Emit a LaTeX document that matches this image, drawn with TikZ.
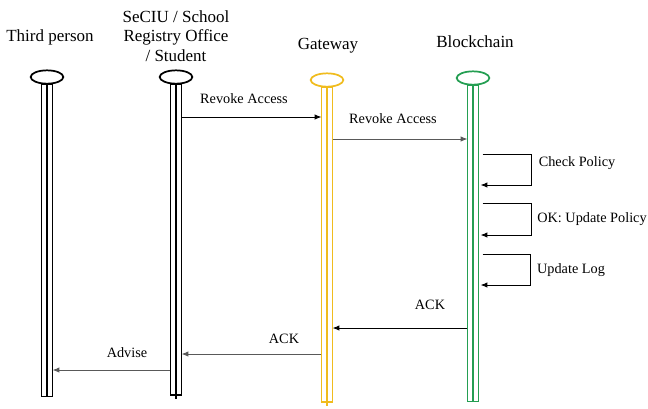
\documentclass[tikz,border=0pt]{standalone}
\usepackage{fontspec}
\setmainfont{Liberation Serif}
\definecolor{GateGold}{RGB}{240, 188, 30}
\definecolor{ChainGreen}{RGB}{36, 158, 82}
\usetikzlibrary{arrows.meta, positioning, shapes.geometric, calc}

\begin{document}
\begin{tikzpicture}[x=0.75pt, y=-0.75pt,
    head/.style={draw, ellipse, line width=1.3pt, minimum width=24.5pt, minimum height=10pt, inner sep=0pt},
    lifebar/.style={draw, rectangle, line width=1.1pt, minimum width=8.5pt, inner sep=0pt, outer sep=0pt},
    title/.style={font=\fontsize{12.75}{14.6}\selectfont, align=center},
    lbl/.style={font=\fontsize{10.7}{12}\selectfont},
    msg/.style={-{Latex[length=5pt, width=4pt]}, line width=0.6pt},
    faint/.style={draw=black!65}]
    \useasboundingbox (0,0) rectangle (648,408);

    % participants
    \node[title] (tptitle) at (50,37) {Third person};
    \node[title] (sectitle) at (176,36) {SeCIU / School\\Registry Office\\/ Student};
    \node[title] (gwtitle) at (328,46) {Gateway};
    \node[title] (bctitle) at (475,42) {Blockchain};

    \node[head] (tp) at (47,77) {};
    \node[head] (sec) at (176,77) {};
    \node[head, draw=GateGold] (gw) at (327,80) {};
    \node[head, draw=ChainGreen] (bc) at (473,78) {};

    \node[lifebar, minimum height=234pt, below=0pt of tp] (tpbar) {};
    \node[lifebar, minimum height=233pt, below=0pt of sec] (secbar) {};
    \node[lifebar, draw=GateGold, minimum height=236pt, below=0pt of gw] (gwbar) {};
    \node[lifebar, draw=ChainGreen, minimum height=237pt, below=0pt of bc] (bcbar) {};

    \draw[line width=1.1pt] (tpbar.north) -- (tpbar.south);
    \draw[line width=1.1pt] (secbar.north) -- ([yshift=-2.5pt]secbar.south);
    \draw[line width=1.1pt, GateGold] (gwbar.north) -- ([yshift=-3pt]gwbar.south);
    \draw[line width=1.1pt, ChainGreen] (bcbar.north) -- (bcbar.south);

    % messages
    \draw[msg] (secbar.east |- 0,117) -- (gwbar.west |- 0,117);
    \node[lbl] (rev1) at (244,99) {Revoke Access};
    \draw[msg, faint] (gwbar.east |- 0,139) -- (bcbar.west |- 0,139);
    \node[lbl] (rev2) at (393,119) {Revoke Access};

    \draw[msg] ($(bcbar.east |- 0,154)+(4,0)$) -- (531,154) -- (531,185) -- ($(bcbar.east |- 0,185)+(2,0)$);
    \node[lbl] (chk) at (577,163) {Check Policy};
    \draw[msg] ($(bcbar.east |- 0,203)+(4,0)$) -- (531,203) -- (531,235) -- ($(bcbar.east |- 0,235)+(2,0)$);
    \node[lbl] (upd) at (592,219) {OK: Update Policy};
    \draw[msg] ($(bcbar.east |- 0,254)+(4,0)$) -- (530,254) -- (530,285) -- ($(bcbar.east |- 0,285)+(2,0)$);
    \node[lbl] (log) at (571,270) {Update Log};

    \draw[msg] (bcbar.west |- 0,328) -- (gwbar.east |- 0,328);
    \node[lbl] (ack1) at (430,305) {ACK};
    \draw[msg, faint] (gwbar.west |- 0,354) -- (secbar.east |- 0,354);
    \node[lbl] (ack2) at (284,339) {ACK};
    \draw[msg, faint] (secbar.west |- 0,370) -- (tpbar.east |- 0,370);
    \node[lbl] (adv) at (127,353) {Advise};
\end{tikzpicture}
\end{document}
